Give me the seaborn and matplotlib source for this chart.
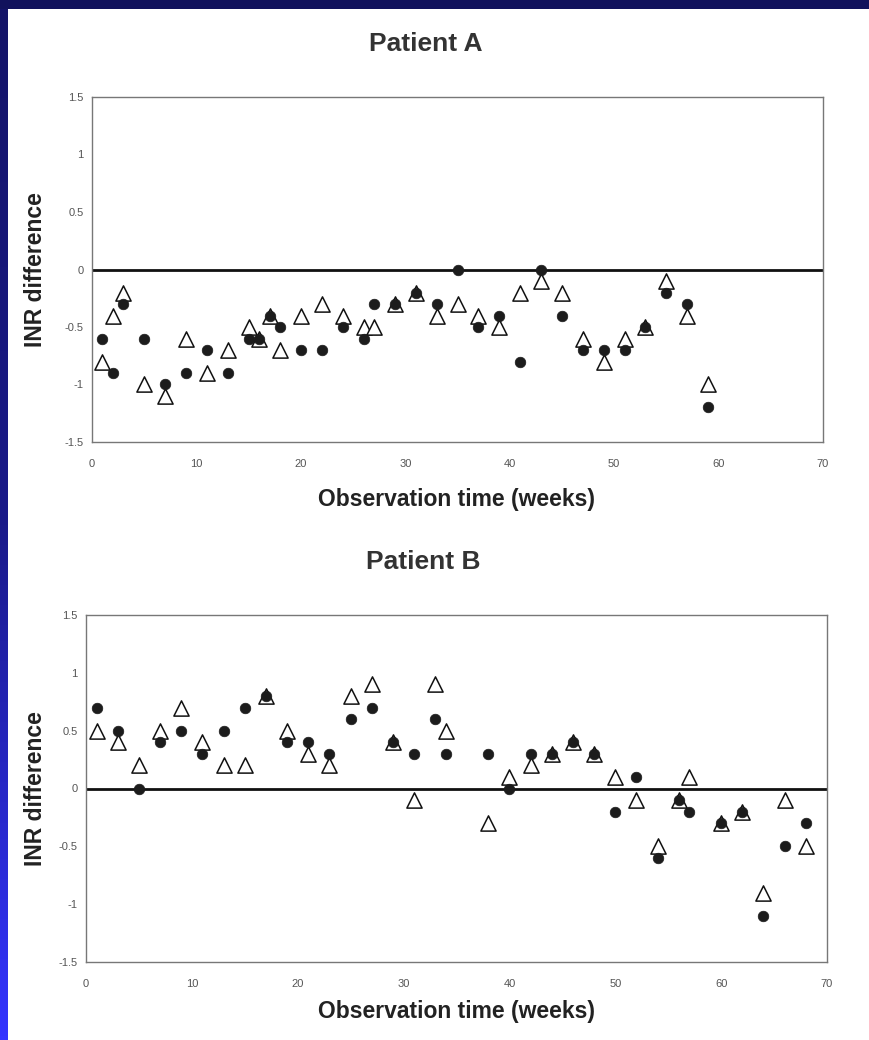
import numpy as np
import matplotlib
matplotlib.use("Agg")
import matplotlib.pyplot as plt
import seaborn as sns

# ---- data ----
weeks_a = [1, 2, 3, 5, 7, 9, 11, 13, 15, 16, 17, 18, 20, 22, 24, 26, 27, 29, 31, 33,
           35, 37, 39, 41, 43, 45, 47, 49, 51, 53, 55, 57, 59]
circles_a = [-0.6, -0.9, -0.3, -0.6, -1.0, -0.9, -0.7, -0.9, -0.6, -0.6, -0.4, -0.5, -0.7,
             -0.7, -0.5, -0.6, -0.3, -0.3, -0.2, -0.3, 0.0, -0.5, -0.4, -0.8, 0.0, -0.4,
             -0.7, -0.7, -0.7, -0.5, -0.2, -0.3, -1.2]
triangles_a = [-0.8, -0.4, -0.2, -1.0, -1.1, -0.6, -0.9, -0.7, -0.5, -0.6, -0.4, -0.7, -0.4,
               -0.3, -0.4, -0.5, -0.5, -0.3, -0.2, -0.4, -0.3, -0.4, -0.5, -0.2, -0.1, -0.2,
               -0.6, -0.8, -0.6, -0.5, -0.1, -0.4, -1.0]

weeks_b = [1, 3, 5, 7, 9, 11, 13, 15, 17, 19, 21, 23, 25, 27, 29, 31, 33, 34, 38, 40,
           42, 44, 46, 48, 50, 52, 54, 56, 57, 60, 62, 64, 66, 68]
circles_b = [0.7, 0.5, 0.0, 0.4, 0.5, 0.3, 0.5, 0.7, 0.8, 0.4, 0.4, 0.3, 0.6, 0.7, 0.4, 0.3,
             0.6, 0.3, 0.3, 0.0, 0.3, 0.3, 0.4, 0.3, -0.2, 0.1, -0.6, -0.1, -0.2, -0.3,
             -0.2, -1.1, -0.5, -0.3]
triangles_b = [0.5, 0.4, 0.2, 0.5, 0.7, 0.4, 0.2, 0.2, 0.8, 0.5, 0.3, 0.2, 0.8, 0.9, 0.4,
               -0.1, 0.9, 0.5, -0.3, 0.1, 0.2, 0.3, 0.4, 0.3, 0.1, -0.1, -0.5, -0.1, 0.1,
               -0.3, -0.2, -0.9, -0.1, -0.5]

titles = ["Patient A", "Patient B"]
x_ticks = [0, 10, 20, 30, 40, 50, 60, 70]
y_ticks = [-1.5, -1, -0.5, 0, 0.5, 1, 1.5]
y_tick_labels = ["-1.5", "-1", "-0.5", "0", "0.5", "1", "1.5"]
xlabel = "Observation time (weeks)"
ylabel = "INR difference"

sns.set_style("white")
plt.rcParams["font.family"] = ["Liberation Sans", "DejaVu Sans"]

W, H = 869, 1040
fig = plt.figure(figsize=(W / 100, H / 100), dpi=100)
fig.patch.set_facecolor("white")

# blue frame strips (slide background)
top_strip = fig.add_axes([0, 1 - 9 / H, 1, 9 / H])
top_strip.set_facecolor("#11125c")
top_strip.set_xticks([]); top_strip.set_yticks([])
for s in top_strip.spines.values():
    s.set_visible(False)
left_strip = fig.add_axes([0, 0, 8 / W, 1 - 9 / H])
grad = np.linspace(0, 1, 256).reshape(-1, 1)
cmap = matplotlib.colors.LinearSegmentedColormap.from_list("bl", ["#3434ff", "#1a1a8a", "#141468"])
left_strip.imshow(grad, aspect="auto", cmap=cmap, origin="lower")
left_strip.axis("off")

panels = [
    (weeks_a, circles_a, triangles_a, [92, 97, 823, 442], 426, 46),
    (weeks_b, circles_b, triangles_b, [86, 615, 827, 962], 423, 38),
]

for i, (wk, circ, tri, (l, t, r, b), tcx, xl_off) in enumerate(panels):
    ax = fig.add_axes([l / W, 1 - b / H, (r - l) / W, (b - t) / H])
    ax.axhline(0, color="#111111", lw=2.0, zorder=1)
    sns.scatterplot(x=wk, y=tri, marker="^", s=120, facecolor="white",
                    edgecolor="#111111", linewidth=1.1, ax=ax, zorder=2)
    sns.scatterplot(x=wk, y=circ, marker="o", s=58, color="#1c1c1c",
                    edgecolor="#1c1c1c", linewidth=0.5, ax=ax, zorder=3)
    ax.set_xlim(0, 70)
    ax.set_ylim(-1.5, 1.5)
    ax.set_xticks(x_ticks)
    ax.set_yticks(y_ticks)
    ax.set_yticklabels(y_tick_labels)
    ax.tick_params(axis="both", labelsize=8, labelcolor="#555555", colors="#777777",
                   length=3, width=0.8, direction="out")
    ax.tick_params(axis="x", pad=9.5)
    ax.tick_params(axis="y", pad=3)
    for s in ax.spines.values():
        s.set_color("#777777")
        s.set_linewidth(1.0)
    ax.set_xlabel(xlabel, fontsize=16.5, fontweight="bold", color="#222222")
    ax.xaxis.set_label_coords((456 - l) / (r - l), -xl_off / (b - t))
    ax.set_ylabel(ylabel, fontsize=16.5, fontweight="bold", color="#222222")
    ax.yaxis.set_label_coords((47 - l) / (r - l), 0.5)
    ax.set_title(titles[i], fontsize=19, fontweight="bold", color="#333333",
                 x=(tcx - l) / (r - l), pad=33)

fig.savefig("out.png", dpi=100, facecolor="white")
